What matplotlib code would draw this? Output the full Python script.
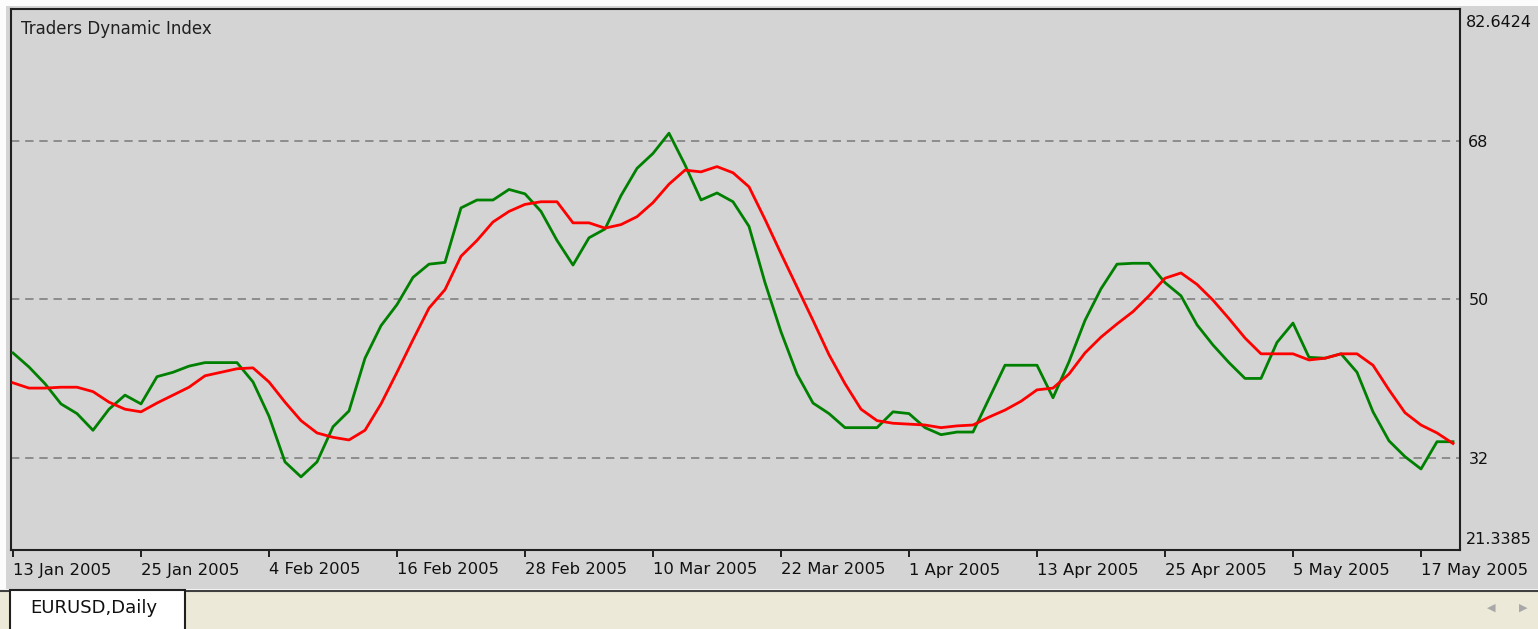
import matplotlib
matplotlib.use("Agg")
import matplotlib.pyplot as plt
from matplotlib.patches import Rectangle

# Traders Dynamic Index, EURUSD daily, one value per bar
green = [43.9, 42.3, 40.4, 38.1, 37.0, 35.1, 37.5, 39.1, 38.1, 41.2,
         41.7, 42.4, 42.8, 42.8, 42.8, 40.6, 36.7, 31.5, 29.8, 31.5,
         35.5, 37.3, 43.3, 47.0, 49.4, 52.5, 54.0, 54.2, 60.4, 61.3,
         61.3, 62.5, 62.0, 60.0, 56.7, 53.9, 57.0, 58.0, 61.8, 64.9,
         66.6, 68.9, 65.3, 61.3, 62.1, 61.1, 58.3, 51.9, 46.3, 41.5,
         38.2, 37.0, 35.4, 35.4, 35.4, 37.2, 37.0, 35.4, 34.6, 34.9,
         34.9, 38.7, 42.5, 42.5, 42.5, 38.8, 42.9, 47.6, 51.2, 54.0,
         54.1, 54.1, 51.9, 50.4, 47.1, 44.8, 42.8, 41.0, 41.0, 45.1,
         47.3, 43.4, 43.3, 43.8, 41.7, 37.2, 33.9, 32.1, 30.7, 33.8,
         33.8]
red = [40.5, 39.9, 39.9, 40.0, 40.0, 39.5, 38.3, 37.5, 37.2, 38.2,
       39.1, 40.0, 41.3, 41.7, 42.1, 42.2, 40.6, 38.3, 36.2, 34.8,
       34.3, 34.0, 35.1, 38.1, 41.7, 45.4, 49.0, 51.1, 54.9, 56.7,
       58.8, 60.0, 60.8, 61.1, 61.1, 58.7, 58.7, 58.1, 58.5, 59.4,
       61.0, 63.1, 64.7, 64.5, 65.1, 64.4, 62.8, 59.1, 55.2, 51.4,
       47.6, 43.7, 40.4, 37.5, 36.2, 35.9, 35.8, 35.7, 35.4, 35.6,
       35.7, 36.6, 37.4, 38.4, 39.7, 39.9, 41.5, 43.9, 45.7, 47.2,
       48.6, 50.4, 52.4, 53.0, 51.7, 49.9, 47.8, 45.6, 43.8, 43.8,
       43.8, 43.1, 43.3, 43.8, 43.8, 42.5, 39.7, 37.1, 35.7, 34.8,
       33.6]

date_labels = ["13 Jan 2005", "25 Jan 2005", "4 Feb 2005", "16 Feb 2005",
               "28 Feb 2005", "10 Mar 2005", "22 Mar 2005", "1 Apr 2005",
               "13 Apr 2005", "25 Apr 2005", "5 May 2005", "17 May 2005"]
label_step = 8
levels = [68, 50, 32]
y_min, y_max = 21.3385, 82.6424

W, H = 1538, 629
bg = "#d4d4d4"
fig = plt.figure(figsize=(W / 100, H / 100), dpi=100)
fig.patch.set_facecolor("#fcfcfc")

# gray chart window and beige tab strip at the bottom
fig.patches.append(Rectangle((6 / W, (H - 589) / H), 1, 583 / H, transform=fig.transFigure,
                             facecolor=bg, edgecolor="none", zorder=-5))
fig.patches.append(Rectangle((0, 0), 1, (H - 591) / H, transform=fig.transFigure,
                             facecolor="#ece9d8", edgecolor="none", zorder=-5))
fig.add_artist(plt.Line2D([0, 1], [(H - 591) / H] * 2, transform=fig.transFigure,
                          color="#404040", lw=1.5, zorder=-4))
fig.patches.append(Rectangle((10 / W, -0.01), 175 / W, (H - 590) / H + 0.01,
                             transform=fig.transFigure, facecolor="white",
                             edgecolor="#202020", lw=1.5, zorder=-3))
fig.text(30 / W, (H - 608) / H, "EURUSD,Daily", fontsize=13, va="center", ha="left",
         color="#101010")
fig.text(1491 / W, (H - 608) / H, "\u25c0", fontsize=8, va="center", ha="center", color="#a8a8a8")
fig.text(1523 / W, (H - 608) / H, "\u25b6", fontsize=8, va="center", ha="center", color="#a8a8a8")

ax = fig.add_axes([11 / W, (H - 550) / H, (1460 - 11) / W, 541 / H])
ax.set_facecolor(bg)

x = list(range(len(green)))
for lv in levels:
    ax.axhline(lv, color="#808080", lw=1.2, ls=(0, (5, 3.5)), zorder=1)
ax.plot(x, green, color="#008000", lw=2.0, zorder=3)
ax.plot(x, red, color="#ff0000", lw=2.0, zorder=4)

# bar i sits at 13 + 16*i px, frame runs from 11 to 1460 px
ax.set_xlim((11 - 13) / 16, (1460 - 13) / 16)
ax.set_ylim(21.48, 83.03)

ticks = [i * label_step for i in range(len(date_labels))]
ax.set_xticks(ticks)
ax.set_xticklabels(date_labels, ha="left", fontsize=11.8, color="#101010")
ax.tick_params(axis="x", direction="out", length=5, width=1.2, pad=4, color="black")

ax.yaxis.tick_right()
ax.set_yticks(levels)
ax.set_yticklabels([str(v) for v in levels], fontsize=11.5, color="#101010")
ax.tick_params(axis="y", length=0, pad=6)

# range labels at the top and bottom of the price scale
ax.text(1 + 6 / (1460 - 11), 1.0 - 6 / 541, f"{y_max:.4f}", transform=ax.transAxes,
        ha="left", va="top", fontsize=11.5, color="#101010")
ax.text(1 + 6 / (1460 - 11), 3 / 541, f"{y_min:.4f}", transform=ax.transAxes,
        ha="left", va="bottom", fontsize=11.5, color="#101010")

for s in ax.spines.values():
    s.set_color("#202020")
    s.set_linewidth(1.5)

ax.text(10 / (1460 - 11), 1 - 20 / 541, "Traders Dynamic Index", transform=ax.transAxes,
        ha="left", va="center", fontsize=12, color="#202020")

fig.savefig("out.png", dpi=100, facecolor=fig.get_facecolor())
